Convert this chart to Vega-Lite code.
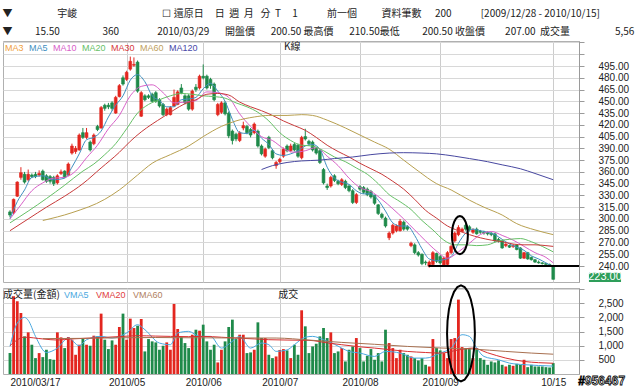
{
"$schema": "https://vega.github.io/schema/vega-lite/v6.json",
"background": "white",
"padding": {"left": 2, "top": 8, "right": 0, "bottom": 0},
"bounds": "flush",
"title": {
 "text": "▼\u00a0\u00a0\u00a0\u00a0\u00a0\u00a0\u00a0\u00a0\u00a0\u00a0\u00a0\u00a0\u00a0\u00a0\u00a0\u00a0\u00a0\u00a0\u00a0\u00a0宇峻\u00a0\u00a0\u00a0\u00a0\u00a0\u00a0\u00a0\u00a0\u00a0\u00a0\u00a0\u00a0\u00a0\u00a0\u00a0\u00a0\u00a0\u00a0\u00a0\u00a0\u00a0\u00a0\u00a0\u00a0\u00a0\u00a0\u00a0\u00a0\u00a0\u00a0\u00a0\u00a0\u00a0\u00a0\u00a0\u00a0\u00a0\u00a0☐\u00a0還原日\u00a0\u00a0\u00a0\u00a0\u00a0日\u00a0\u00a0週\u00a0\u00a0月\u00a0\u00a0\u00a0分\u00a0\u00a0T\u00a0\u00a0\u00a0\u00a0\u00a01\u00a0\u00a0\u00a0\u00a0\u00a0\u00a0\u00a0\u00a0\u00a0\u00a0\u00a0\u00a0\u00a0前一個\u00a0\u00a0\u00a0\u00a0\u00a0\u00a0\u00a0\u00a0\u00a0\u00a0\u00a0資料筆數\u00a0\u00a0\u00a0\u00a0\u00a0\u00a0200\u00a0\u00a0\u00a0\u00a0\u00a0\u00a0\u00a0\u00a0\u00a0\u00a0\u00a0\u00a0\u00a0[2009/12/28 - 2010/10/15]",
 "subtitle": "▼\u00a0\u00a0\u00a0\u00a0\u00a0\u00a0\u00a0\u00a0\u00a0\u00a015.50\u00a0\u00a0\u00a0\u00a0\u00a0\u00a0\u00a0\u00a0\u00a0\u00a0\u00a0\u00a0\u00a0\u00a0\u00a0\u00a0\u00a0\u00a0\u00a0360\u00a0\u00a0\u00a0\u00a0\u00a0\u00a0\u00a0\u00a0\u00a0\u00a0\u00a0\u00a0\u00a0\u00a0\u00a0\u00a0\u00a02010/03/29\u00a0\u00a0\u00a0\u00a0\u00a0\u00a0\u00a0開盤價\u00a0\u00a0\u00a0\u00a0\u00a0\u00a0\u00a0200.50\u00a0最高價\u00a0\u00a0\u00a0\u00a0\u00a0\u00a0\u00a0210.50最低\u00a0\u00a0\u00a0\u00a0\u00a0\u00a0\u00a0\u00a0\u00a0\u00a0200.50\u00a0收盤價\u00a0\u00a0\u00a0\u00a0\u00a0\u00a0\u00a0\u00a0\u00a0207.00\u00a0\u00a0成交量\u00a0\u00a0\u00a0\u00a0\u00a0\u00a0\u00a0\u00a0\u00a0\u00a0\u00a0\u00a0\u00a0\u00a0\u00a0\u00a0\u00a0\u00a0\u00a0\u00a05,56",
 "anchor": "start", "font": "Noto Sans CJK TC", "fontSize": 10, "fontWeight": "normal", "color": "#222",
 "subtitleFont": "Noto Sans CJK TC", "subtitleFontSize": 10, "subtitleColor": "#222", "subtitlePadding": 8, "offset": 0
},
"datasets": {
 "k": [
{"i":0,"o":309,"h":311,"l":302,"c":305,"v":739},
{"i":1,"o":308,"h":326,"l":306,"c":325,"v":2748},
{"i":2,"o":329,"h":348,"l":328,"c":347,"v":2571},
{"i":3,"o":353,"h":366,"l":350,"c":359,"v":2157},
{"i":4,"o":357,"h":360,"l":345,"c":347,"v":1330},
{"i":5,"o":350,"h":363,"l":348,"c":357,"v":1472},
{"i":6,"o":356,"h":358,"l":352,"c":354,"v":1035},
{"i":7,"o":357,"h":360,"l":352,"c":354,"v":562},
{"i":8,"o":356,"h":362,"l":354,"c":358,"v":739},
{"i":9,"o":361,"h":363,"l":349,"c":350,"v":597},
{"i":10,"o":355,"h":357,"l":346,"c":348,"v":857},
{"i":11,"o":354,"h":356,"l":345,"c":348,"v":526},
{"i":12,"o":353,"h":355,"l":342,"c":345,"v":503},
{"i":13,"o":346,"h":357,"l":344,"c":355,"v":1472},
{"i":14,"o":358,"h":363,"l":356,"c":360,"v":1295},
{"i":15,"o":361,"h":362,"l":352,"c":353,"v":916},
{"i":16,"o":356,"h":372,"l":355,"c":370,"v":1306},
{"i":17,"o":384,"h":396,"l":382,"c":393,"v":1212},
{"i":18,"o":386,"h":393,"l":383,"c":390,"v":680},
{"i":19,"o":388,"h":409,"l":387,"c":407,"v":1035},
{"i":20,"o":410,"h":416,"l":402,"c":404,"v":1247},
{"i":21,"o":404,"h":416,"l":402,"c":410,"v":1035},
{"i":22,"o":398,"h":400,"l":386,"c":388,"v":999},
{"i":23,"o":396,"h":409,"l":394,"c":407,"v":1354},
{"i":24,"o":418,"h":420,"l":412,"c":414,"v":1330},
{"i":25,"o":416,"h":444,"l":415,"c":442,"v":2134},
{"i":26,"o":445,"h":447,"l":438,"c":441,"v":1212},
{"i":27,"o":445,"h":448,"l":440,"c":443,"v":881},
{"i":28,"o":448,"h":450,"l":438,"c":441,"v":1188},
{"i":29,"o":435,"h":457,"l":434,"c":455,"v":1035},
{"i":30,"o":456,"h":472,"l":455,"c":470,"v":1661},
{"i":31,"o":480,"h":483,"l":470,"c":472,"v":2134},
{"i":32,"o":478,"h":489,"l":476,"c":487,"v":1212},
{"i":33,"o":491,"h":507,"l":489,"c":501,"v":1956},
{"i":34,"o":496,"h":506,"l":494,"c":497,"v":1625},
{"i":35,"o":500,"h":502,"l":461,"c":463,"v":1708},
{"i":36,"o":431,"h":463,"l":430,"c":461,"v":1945},
{"i":37,"o":457,"h":459,"l":450,"c":452,"v":798},
{"i":38,"o":457,"h":459,"l":453,"c":455,"v":1235},
{"i":39,"o":459,"h":461,"l":449,"c":450,"v":1153},
{"i":40,"o":461,"h":463,"l":448,"c":450,"v":1117},
{"i":41,"o":452,"h":454,"l":442,"c":444,"v":857},
{"i":42,"o":446,"h":448,"l":431,"c":433,"v":999},
{"i":43,"o":433,"h":442,"l":431,"c":440,"v":1117},
{"i":44,"o":433,"h":444,"l":432,"c":442,"v":857},
{"i":45,"o":444,"h":465,"l":443,"c":455,"v":2476},
{"i":46,"o":446,"h":464,"l":445,"c":462,"v":1590},
{"i":47,"o":467,"h":472,"l":459,"c":461,"v":1306},
{"i":48,"o":457,"h":459,"l":446,"c":448,"v":1094},
{"i":49,"o":457,"h":459,"l":438,"c":440,"v":916},
{"i":50,"o":440,"h":465,"l":438,"c":463,"v":1389},
{"i":51,"o":468,"h":472,"l":462,"c":465,"v":1566},
{"i":52,"o":467,"h":484,"l":465,"c":482,"v":1531},
{"i":53,"o":482,"h":497,"l":478,"c":480,"v":1744},
{"i":54,"o":482,"h":484,"l":465,"c":467,"v":1153},
{"i":55,"o":478,"h":480,"l":466,"c":470,"v":857},
{"i":56,"o":472,"h":474,"l":450,"c":452,"v":1035},
{"i":57,"o":433,"h":448,"l":431,"c":446,"v":408},
{"i":58,"o":436,"h":450,"l":434,"c":448,"v":857},
{"i":59,"o":448,"h":450,"l":432,"c":434,"v":1153},
{"i":60,"o":435,"h":437,"l":403,"c":406,"v":1661},
{"i":61,"o":412,"h":414,"l":395,"c":400,"v":1921},
{"i":62,"o":408,"h":410,"l":399,"c":402,"v":1235},
{"i":63,"o":400,"h":412,"l":398,"c":410,"v":1389},
{"i":64,"o":416,"h":424,"l":413,"c":419,"v":1389},
{"i":65,"o":418,"h":420,"l":408,"c":410,"v":739},
{"i":66,"o":414,"h":416,"l":404,"c":407,"v":763},
{"i":67,"o":410,"h":423,"l":408,"c":421,"v":857},
{"i":68,"o":412,"h":414,"l":391,"c":393,"v":1826},
{"i":69,"o":393,"h":395,"l":381,"c":383,"v":1271},
{"i":70,"o":380,"h":391,"l":378,"c":389,"v":1271},
{"i":71,"o":404,"h":406,"l":389,"c":391,"v":680},
{"i":72,"o":387,"h":389,"l":376,"c":378,"v":562},
{"i":73,"o":368,"h":374,"l":364,"c":372,"v":620},
{"i":74,"o":373,"h":378,"l":371,"c":376,"v":850},
{"i":75,"o":380,"h":391,"l":378,"c":389,"v":881},
{"i":76,"o":393,"h":395,"l":385,"c":387,"v":834},
{"i":77,"o":387,"h":396,"l":385,"c":393,"v":562},
{"i":78,"o":395,"h":397,"l":386,"c":388,"v":1035},
{"i":79,"o":394,"h":396,"l":378,"c":380,"v":680},
{"i":80,"o":378,"h":406,"l":376,"c":404,"v":2252},
{"i":81,"o":405,"h":415,"l":400,"c":402,"v":1685},
{"i":82,"o":399,"h":401,"l":393,"c":396,"v":739},
{"i":83,"o":398,"h":400,"l":386,"c":388,"v":975},
{"i":84,"o":390,"h":392,"l":382,"c":384,"v":1070},
{"i":85,"o":387,"h":389,"l":370,"c":372,"v":1330},
{"i":86,"o":363,"h":365,"l":344,"c":346,"v":1626},
{"i":87,"o":342,"h":345,"l":337,"c":340,"v":1271},
{"i":88,"o":342,"h":355,"l":340,"c":353,"v":1472},
{"i":89,"o":355,"h":357,"l":347,"c":349,"v":739},
{"i":90,"o":348,"h":350,"l":343,"c":345,"v":798},
{"i":91,"o":344,"h":352,"l":342,"c":350,"v":916},
{"i":92,"o":348,"h":350,"l":338,"c":340,"v":444},
{"i":93,"o":342,"h":344,"l":334,"c":336,"v":857},
{"i":94,"o":336,"h":338,"l":319,"c":321,"v":975},
{"i":95,"o":321,"h":333,"l":319,"c":331,"v":1271},
{"i":96,"o":341,"h":343,"l":336,"c":338,"v":916},
{"i":97,"o":340,"h":342,"l":332,"c":334,"v":444},
{"i":98,"o":338,"h":340,"l":329,"c":331,"v":645},
{"i":99,"o":335,"h":337,"l":326,"c":328,"v":881},
{"i":100,"o":330,"h":331,"l":318,"c":320,"v":503},
{"i":101,"o":318,"h":319,"l":305,"c":307,"v":739},
{"i":102,"o":306,"h":308,"l":300,"c":302,"v":444},
{"i":103,"o":301,"h":303,"l":289,"c":291,"v":1566},
{"i":104,"o":276,"h":284,"l":273,"c":282,"v":1094},
{"i":105,"o":282,"h":294,"l":280,"c":292,"v":916},
{"i":106,"o":285,"h":293,"l":283,"c":291,"v":562},
{"i":107,"o":285,"h":300,"l":284,"c":297,"v":857},
{"i":108,"o":296,"h":298,"l":285,"c":287,"v":739},
{"i":109,"o":290,"h":292,"l":285,"c":287,"v":680},
{"i":110,"o":266,"h":271,"l":264,"c":269,"v":621},
{"i":111,"o":267,"h":269,"l":255,"c":257,"v":562},
{"i":112,"o":257,"h":259,"l":252,"c":254,"v":479},
{"i":113,"o":255,"h":256,"l":241,"c":243,"v":562},
{"i":114,"o":245,"h":247,"l":241,"c":244,"v":325},
{"i":115,"o":240,"h":247,"l":238,"c":245,"v":266},
{"i":116,"o":242,"h":259,"l":241,"c":257,"v":1235},
{"i":117,"o":256,"h":257,"l":244,"c":246,"v":916},
{"i":118,"o":252,"h":254,"l":242,"c":244,"v":834},
{"i":119,"o":240,"h":252,"l":239,"c":250,"v":739},
{"i":120,"o":242,"h":259,"l":241,"c":257,"v":562},
{"i":121,"o":257,"h":267,"l":255,"c":265,"v":1235},
{"i":122,"o":272,"h":284,"l":270,"c":282,"v":1271},
{"i":123,"o":280,"h":292,"l":278,"c":289,"v":2630},
{"i":124,"o":284,"h":289,"l":283,"c":287,"v":952},
{"i":125,"o":292,"h":294,"l":285,"c":287,"v":916},
{"i":126,"o":290,"h":292,"l":284,"c":286,"v":916},
{"i":127,"o":283,"h":288,"l":281,"c":286,"v":562},
{"i":128,"o":287,"h":289,"l":280,"c":281,"v":916},
{"i":129,"o":284,"h":286,"l":281,"c":283,"v":562},
{"i":130,"o":283,"h":285,"l":280,"c":282,"v":503},
{"i":131,"o":283,"h":284,"l":279,"c":281,"v":325},
{"i":132,"o":282,"h":283,"l":278,"c":280,"v":444},
{"i":133,"o":281,"h":282,"l":270,"c":272,"v":408},
{"i":134,"o":274,"h":276,"l":270,"c":272,"v":479},
{"i":135,"o":272,"h":273,"l":262,"c":263,"v":325},
{"i":136,"o":266,"h":269,"l":264,"c":268,"v":266},
{"i":137,"o":266,"h":267,"l":263,"c":264,"v":325},
{"i":138,"o":265,"h":268,"l":263,"c":266,"v":290},
{"i":139,"o":267,"h":268,"l":260,"c":261,"v":361},
{"i":140,"o":263,"h":264,"l":249,"c":250,"v":325},
{"i":141,"o":250,"h":258,"l":249,"c":257,"v":503},
{"i":142,"o":257,"h":258,"l":248,"c":249,"v":242},
{"i":143,"o":251,"h":252,"l":247,"c":248,"v":325},
{"i":144,"o":248,"h":249,"l":244,"c":245,"v":266},
{"i":145,"o":245,"h":247,"l":243,"c":244,"v":266},
{"i":146,"o":244,"h":245,"l":242,"c":243,"v":266},
{"i":147,"o":243,"h":244,"l":241,"c":242,"v":242},
{"i":148,"o":242,"h":243,"l":240,"c":241,"v":230},
{"i":149,"o":240,"h":241,"l":223,"c":223,"v":385}
 ],
 "ma": [
{"m":"MA5","i":0,"v":300},{"m":"MA5","i":2,"v":322},{"m":"MA5","i":4,"v":337},{"m":"MA5","i":6,"v":353},{"m":"MA5","i":9,"v":355},{"m":"MA5","i":12,"v":350},{"m":"MA5","i":15,"v":352},{"m":"MA5","i":17,"v":366},{"m":"MA5","i":19,"v":383},{"m":"MA5","i":21,"v":401},{"m":"MA5","i":23,"v":404},{"m":"MA5","i":25,"v":412},{"m":"MA5","i":27,"v":430},{"m":"MA5","i":29,"v":445},{"m":"MA5","i":31,"v":457},{"m":"MA5","i":33,"v":477},{"m":"MA5","i":35,"v":484},{"m":"MA5","i":37,"v":475},{"m":"MA5","i":39,"v":457},{"m":"MA5","i":41,"v":451},{"m":"MA5","i":43,"v":443},{"m":"MA5","i":45,"v":443},{"m":"MA5","i":47,"v":452},{"m":"MA5","i":49,"v":453},{"m":"MA5","i":51,"v":455},{"m":"MA5","i":53,"v":466},{"m":"MA5","i":55,"v":473},{"m":"MA5","i":57,"v":463},{"m":"MA5","i":59,"v":450},{"m":"MA5","i":61,"v":427},{"m":"MA5","i":63,"v":410},{"m":"MA5","i":65,"v":409},{"m":"MA5","i":67,"v":413},{"m":"MA5","i":69,"v":403},{"m":"MA5","i":71,"v":395},{"m":"MA5","i":73,"v":383},{"m":"MA5","i":75,"v":381},{"m":"MA5","i":77,"v":383},{"m":"MA5","i":79,"v":387},{"m":"MA5","i":81,"v":393},{"m":"MA5","i":83,"v":395},{"m":"MA5","i":85,"v":389},{"m":"MA5","i":87,"v":366},{"m":"MA5","i":89,"v":352},{"m":"MA5","i":91,"v":347},{"m":"MA5","i":93,"v":344},{"m":"MA5","i":95,"v":336},{"m":"MA5","i":97,"v":332},{"m":"MA5","i":99,"v":332},{"m":"MA5","i":101,"v":324},{"m":"MA5","i":103,"v":310},{"m":"MA5","i":105,"v":295},{"m":"MA5","i":107,"v":291},{"m":"MA5","i":109,"v":291},{"m":"MA5","i":111,"v":279},{"m":"MA5","i":113,"v":262},{"m":"MA5","i":115,"v":249},{"m":"MA5","i":117,"v":247},{"m":"MA5","i":119,"v":248},{"m":"MA5","i":121,"v":252},{"m":"MA5","i":123,"v":269},{"m":"MA5","i":125,"v":282},{"m":"MA5","i":127,"v":287},{"m":"MA5","i":129,"v":285},{"m":"MA5","i":131,"v":283},{"m":"MA5","i":133,"v":280},{"m":"MA5","i":135,"v":274},{"m":"MA5","i":137,"v":268},{"m":"MA5","i":139,"v":264},{"m":"MA5","i":141,"v":260},{"m":"MA5","i":143,"v":253},{"m":"MA5","i":145,"v":249},{"m":"MA5","i":147,"v":244},{"m":"MA5","i":149,"v":239},
{"m":"MA10","i":0,"v":300},{"m":"MA10","i":3,"v":318},{"m":"MA10","i":6,"v":336},{"m":"MA10","i":9,"v":346},{"m":"MA10","i":12,"v":352},{"m":"MA10","i":15,"v":353},{"m":"MA10","i":18,"v":361},{"m":"MA10","i":21,"v":378},{"m":"MA10","i":24,"v":394},{"m":"MA10","i":27,"v":415},{"m":"MA10","i":30,"v":432},{"m":"MA10","i":33,"v":457},{"m":"MA10","i":36,"v":469},{"m":"MA10","i":39,"v":471},{"m":"MA10","i":42,"v":461},{"m":"MA10","i":45,"v":448},{"m":"MA10","i":48,"v":449},{"m":"MA10","i":51,"v":451},{"m":"MA10","i":54,"v":462},{"m":"MA10","i":57,"v":461},{"m":"MA10","i":60,"v":455},{"m":"MA10","i":63,"v":434},{"m":"MA10","i":66,"v":418},{"m":"MA10","i":69,"v":405},{"m":"MA10","i":72,"v":400},{"m":"MA10","i":75,"v":390},{"m":"MA10","i":78,"v":385},{"m":"MA10","i":81,"v":387},{"m":"MA10","i":84,"v":391},{"m":"MA10","i":87,"v":380},{"m":"MA10","i":90,"v":368},{"m":"MA10","i":93,"v":352},{"m":"MA10","i":96,"v":340},{"m":"MA10","i":99,"v":335},{"m":"MA10","i":102,"v":325},{"m":"MA10","i":105,"v":313},{"m":"MA10","i":108,"v":300},{"m":"MA10","i":111,"v":286},{"m":"MA10","i":114,"v":272},{"m":"MA10","i":117,"v":259},{"m":"MA10","i":120,"v":250},{"m":"MA10","i":123,"v":258},{"m":"MA10","i":126,"v":269},{"m":"MA10","i":129,"v":280},{"m":"MA10","i":132,"v":284},{"m":"MA10","i":135,"v":279},{"m":"MA10","i":138,"v":273},{"m":"MA10","i":141,"v":265},{"m":"MA10","i":144,"v":257},{"m":"MA10","i":147,"v":251},{"m":"MA10","i":149,"v":244},
{"m":"MA20","i":0,"v":295},{"m":"MA20","i":5,"v":310},{"m":"MA20","i":10,"v":326},{"m":"MA20","i":15,"v":343},{"m":"MA20","i":20,"v":361},{"m":"MA20","i":23,"v":370},{"m":"MA20","i":26,"v":382},{"m":"MA20","i":29,"v":396},{"m":"MA20","i":32,"v":415},{"m":"MA20","i":35,"v":435},{"m":"MA20","i":38,"v":446},{"m":"MA20","i":41,"v":452},{"m":"MA20","i":44,"v":457},{"m":"MA20","i":47,"v":460},{"m":"MA20","i":50,"v":459},{"m":"MA20","i":53,"v":457},{"m":"MA20","i":56,"v":456},{"m":"MA20","i":59,"v":454},{"m":"MA20","i":62,"v":448},{"m":"MA20","i":65,"v":443},{"m":"MA20","i":68,"v":436},{"m":"MA20","i":71,"v":425},{"m":"MA20","i":74,"v":410},{"m":"MA20","i":77,"v":400},{"m":"MA20","i":80,"v":394},{"m":"MA20","i":83,"v":393},{"m":"MA20","i":86,"v":387},{"m":"MA20","i":89,"v":379},{"m":"MA20","i":92,"v":373},{"m":"MA20","i":95,"v":365},{"m":"MA20","i":98,"v":357},{"m":"MA20","i":101,"v":345},{"m":"MA20","i":104,"v":331},{"m":"MA20","i":107,"v":322},{"m":"MA20","i":110,"v":312},{"m":"MA20","i":113,"v":298},{"m":"MA20","i":116,"v":286},{"m":"MA20","i":119,"v":273},{"m":"MA20","i":122,"v":267},{"m":"MA20","i":125,"v":267},{"m":"MA20","i":128,"v":266},{"m":"MA20","i":131,"v":267},{"m":"MA20","i":134,"v":272},{"m":"MA20","i":137,"v":274},{"m":"MA20","i":140,"v":275},{"m":"MA20","i":143,"v":271},{"m":"MA20","i":146,"v":265},{"m":"MA20","i":149,"v":258},
{"m":"MA30","i":0,"v":285},{"m":"MA30","i":5,"v":300},{"m":"MA30","i":10,"v":315},{"m":"MA30","i":15,"v":329},{"m":"MA30","i":20,"v":345},{"m":"MA30","i":25,"v":365},{"m":"MA30","i":30,"v":385},{"m":"MA30","i":33,"v":399},{"m":"MA30","i":36,"v":411},{"m":"MA30","i":39,"v":421},{"m":"MA30","i":42,"v":430},{"m":"MA30","i":45,"v":439},{"m":"MA30","i":48,"v":447},{"m":"MA30","i":51,"v":452},{"m":"MA30","i":54,"v":459},{"m":"MA30","i":57,"v":460},{"m":"MA30","i":60,"v":458},{"m":"MA30","i":63,"v":449},{"m":"MA30","i":66,"v":443},{"m":"MA30","i":69,"v":438},{"m":"MA30","i":72,"v":432},{"m":"MA30","i":75,"v":425},{"m":"MA30","i":78,"v":419},{"m":"MA30","i":81,"v":413},{"m":"MA30","i":84,"v":404},{"m":"MA30","i":87,"v":394},{"m":"MA30","i":90,"v":386},{"m":"MA30","i":93,"v":379},{"m":"MA30","i":96,"v":371},{"m":"MA30","i":99,"v":364},{"m":"MA30","i":102,"v":357},{"m":"MA30","i":105,"v":348},{"m":"MA30","i":108,"v":338},{"m":"MA30","i":111,"v":325},{"m":"MA30","i":114,"v":311},{"m":"MA30","i":117,"v":301},{"m":"MA30","i":120,"v":291},{"m":"MA30","i":123,"v":285},{"m":"MA30","i":126,"v":280},{"m":"MA30","i":129,"v":276},{"m":"MA30","i":132,"v":273},{"m":"MA30","i":135,"v":271},{"m":"MA30","i":138,"v":268},{"m":"MA30","i":141,"v":267},{"m":"MA30","i":144,"v":267},{"m":"MA30","i":147,"v":266},{"m":"MA30","i":149,"v":265},
{"m":"MA60","i":9,"v":298},{"m":"MA60","i":17,"v":308},{"m":"MA60","i":26,"v":325},{"m":"MA60","i":30,"v":337},{"m":"MA60","i":35,"v":356},{"m":"MA60","i":39,"v":371},{"m":"MA60","i":44,"v":382},{"m":"MA60","i":49,"v":393},{"m":"MA60","i":53,"v":405},{"m":"MA60","i":58,"v":418},{"m":"MA60","i":62,"v":425},{"m":"MA60","i":67,"v":430},{"m":"MA60","i":71,"v":432},{"m":"MA60","i":76,"v":432},{"m":"MA60","i":80,"v":433},{"m":"MA60","i":83,"v":432},{"m":"MA60","i":87,"v":426},{"m":"MA60","i":92,"v":416},{"m":"MA60","i":96,"v":407},{"m":"MA60","i":100,"v":398},{"m":"MA60","i":104,"v":389},{"m":"MA60","i":108,"v":375},{"m":"MA60","i":112,"v":361},{"m":"MA60","i":117,"v":345},{"m":"MA60","i":121,"v":337},{"m":"MA60","i":126,"v":324},{"m":"MA60","i":130,"v":315},{"m":"MA60","i":135,"v":305},{"m":"MA60","i":139,"v":294},{"m":"MA60","i":144,"v":286},{"m":"MA60","i":149,"v":280},
{"m":"MA120","i":69,"v":363},{"m":"MA120","i":72,"v":368},{"m":"MA120","i":76,"v":372},{"m":"MA120","i":80,"v":374},{"m":"MA120","i":85,"v":375},{"m":"MA120","i":89,"v":377},{"m":"MA120","i":94,"v":379},{"m":"MA120","i":99,"v":382},{"m":"MA120","i":104,"v":384},{"m":"MA120","i":108,"v":384.5},{"m":"MA120","i":113,"v":384},{"m":"MA120","i":117,"v":383},{"m":"MA120","i":122,"v":380},{"m":"MA120","i":126,"v":377},{"m":"MA120","i":131,"v":373},{"m":"MA120","i":135,"v":369},{"m":"MA120","i":140,"v":364},{"m":"MA120","i":144,"v":358},{"m":"MA120","i":149,"v":350}
 ],
 "vma": [
{"m":"VMA5","i":0,"v":975},{"m":"VMA5","i":2,"v":1800},{"m":"VMA5","i":4,"v":2000},{"m":"VMA5","i":5,"v":1900},{"m":"VMA5","i":7,"v":1330},{"m":"VMA5","i":10,"v":760},{"m":"VMA5","i":13,"v":916},{"m":"VMA5","i":16,"v":1271},{"m":"VMA5","i":19,"v":1000},{"m":"VMA5","i":21,"v":1212},{"m":"VMA5","i":25,"v":1330},{"m":"VMA5","i":28,"v":1271},{"m":"VMA5","i":32,"v":1448},{"m":"VMA5","i":35,"v":1744},{"m":"VMA5","i":37,"v":1566},{"m":"VMA5","i":41,"v":1094},{"m":"VMA5","i":44,"v":1035},{"m":"VMA5","i":46,"v":1450},{"m":"VMA5","i":49,"v":1507},{"m":"VMA5","i":52,"v":1330},{"m":"VMA5","i":55,"v":1330},{"m":"VMA5","i":58,"v":916},{"m":"VMA5","i":61,"v":1153},{"m":"VMA5","i":63,"v":1330},{"m":"VMA5","i":66,"v":916},{"m":"VMA5","i":69,"v":1094},{"m":"VMA5","i":71,"v":1035},{"m":"VMA5","i":73,"v":800},{"m":"VMA5","i":76,"v":850},{"m":"VMA5","i":78,"v":1035},{"m":"VMA5","i":81,"v":1300},{"m":"VMA5","i":83,"v":1330},{"m":"VMA5","i":86,"v":1212},{"m":"VMA5","i":89,"v":1050},{"m":"VMA5","i":91,"v":916},{"m":"VMA5","i":93,"v":798},{"m":"VMA5","i":96,"v":739},{"m":"VMA5","i":100,"v":621},{"m":"VMA5","i":103,"v":798},{"m":"VMA5","i":107,"v":739},{"m":"VMA5","i":111,"v":562},{"m":"VMA5","i":114,"v":562},{"m":"VMA5","i":118,"v":739},{"m":"VMA5","i":121,"v":916},{"m":"VMA5","i":124,"v":1389},{"m":"VMA5","i":126,"v":1330},{"m":"VMA5","i":128,"v":916},{"m":"VMA5","i":130,"v":621},{"m":"VMA5","i":134,"v":503},{"m":"VMA5","i":137,"v":385},{"m":"VMA5","i":141,"v":330},{"m":"VMA5","i":145,"v":300},{"m":"VMA5","i":149,"v":280},
{"m":"VMA20","i":0,"v":1000},{"m":"VMA20","i":4,"v":1300},{"m":"VMA20","i":9,"v":1240},{"m":"VMA20","i":13,"v":1200},{"m":"VMA20","i":17,"v":1240},{"m":"VMA20","i":22,"v":1270},{"m":"VMA20","i":26,"v":1295},{"m":"VMA20","i":31,"v":1330},{"m":"VMA20","i":35,"v":1354},{"m":"VMA20","i":40,"v":1340},{"m":"VMA20","i":44,"v":1330},{"m":"VMA20","i":49,"v":1320},{"m":"VMA20","i":53,"v":1330},{"m":"VMA20","i":58,"v":1300},{"m":"VMA20","i":62,"v":1271},{"m":"VMA20","i":67,"v":1240},{"m":"VMA20","i":71,"v":1212},{"m":"VMA20","i":76,"v":1200},{"m":"VMA20","i":82,"v":1190},{"m":"VMA20","i":87,"v":1100},{"m":"VMA20","i":91,"v":1035},{"m":"VMA20","i":96,"v":960},{"m":"VMA20","i":100,"v":916},{"m":"VMA20","i":105,"v":850},{"m":"VMA20","i":109,"v":798},{"m":"VMA20","i":114,"v":760},{"m":"VMA20","i":118,"v":739},{"m":"VMA20","i":123,"v":850},{"m":"VMA20","i":127,"v":916},{"m":"VMA20","i":131,"v":750},{"m":"VMA20","i":136,"v":562},{"m":"VMA20","i":141,"v":444},{"m":"VMA20","i":145,"v":400},{"m":"VMA20","i":149,"v":380},
{"m":"VMA60","i":9,"v":1250},{"m":"VMA60","i":20,"v":1260},{"m":"VMA60","i":30,"v":1280},{"m":"VMA60","i":40,"v":1290},{"m":"VMA60","i":50,"v":1280},{"m":"VMA60","i":60,"v":1275},{"m":"VMA60","i":73,"v":1271},{"m":"VMA60","i":82,"v":1200},{"m":"VMA60","i":91,"v":1117},{"m":"VMA60","i":100,"v":1050},{"m":"VMA60","i":109,"v":975},{"m":"VMA60","i":118,"v":920},{"m":"VMA60","i":127,"v":881},{"m":"VMA60","i":136,"v":798},{"m":"VMA60","i":143,"v":740},{"m":"VMA60","i":149,"v":700}
 ]
},
"vconcat": [
 {
  "width": 576, "height": 241,
  "layer": [
   {"data": {"name": "k"}, "mark": {"type": "rule", "strokeWidth": 1},
    "encoding": {
     "x": {"field": "i", "type": "quantitative", "scale": {"domain": [-0.54, 154.7], "nice": false, "zero": false},
           "axis": {"values": [32, 53, 74, 96, 118, 149], "grid": true, "gridColor": "#cccccc", "labels": false, "ticks": false, "domain": false, "title": null}},
     "y": {"field": "l", "type": "quantitative", "scale": {"domain": [219.6, 526.9], "nice": false, "zero": false},
           "axis": {"orient": "right", "values": [240,255,270,285,300,315,330,345,360,375,390,405,420,435,450,465,480,495,510,525], "tickCount": 100,
                    "labelExpr": "datum.value > 500 ? '' : format(datum.value, '.2f')", "grid": true, "gridColor": "#d8d8d8",
                    "domainColor": "#9a9a9a", "tickColor": "#9a9a9a", "tickSize": 5, "labelAlign": "left", "labelPadding": 14,
                    "labelOverlap": false, "labelFontSize": 10, "title": null}},
     "y2": {"field": "h"},
     "stroke": {"condition": {"test": "datum.c >= datum.o", "value": "#e3261f"}, "value": "#1f8a4a"}
    }},
   {"data": {"name": "k"}, "mark": {"type": "bar", "width": 2.8, "strokeWidth": 0.6},
    "encoding": {
     "x": {"field": "i", "type": "quantitative"},
     "y": {"field": "o", "type": "quantitative"},
     "y2": {"field": "c"},
     "fill": {"condition": {"test": "datum.c >= datum.o", "value": "#e3261f"}, "value": "#1f8a4a"},
     "stroke": {"condition": {"test": "datum.c >= datum.o", "value": "#e3261f"}, "value": "#1f8a4a"}
    }},
   {"data": {"name": "ma"}, "mark": {"type": "line", "strokeWidth": 1, "interpolate": "monotone"},
    "encoding": {
     "x": {"field": "i", "type": "quantitative"},
     "y": {"field": "v", "type": "quantitative"},
     "color": {"field": "m", "type": "nominal",
       "scale": {"domain": ["MA3","MA5","MA10","MA20","MA30","MA60","MA120"], "range": ["#f0a040","#3f8fc0","#d860c8","#66c066","#c83a3a","#b8a050","#4848a0"]},
       "legend": {"orient": "none", "legendX": 0, "legendY": 2, "padding": 0, "direction": "horizontal", "title": null, "gridAlign": "none",
                  "symbolSize": 1, "symbolStrokeWidth": 0, "symbolOpacity": 0, "labelOffset": -7, "columnPadding": 3,
                  "labelFontSize": 9,
                  "encode": {"labels": {"update": {"fill": {"signal": "datum.value=='MA3'?'#f0a040':datum.value=='MA5'?'#3f8fc0':datum.value=='MA10'?'#d860c8':datum.value=='MA20'?'#66c066':datum.value=='MA30'?'#d83a3a':datum.value=='MA60'?'#c0a060':'#4848a8'"}}}}}}
    }},
   {"data": {"values": [{}]}, "mark": {"type": "rule", "strokeWidth": 2, "color": "black"},
    "encoding": {"x": {"datum": 114.8}, "x2": {"datum": 156.1}, "y": {"datum": 240}}},
   {"data": {"values": [{}]}, "mark": {"type": "point", "filled": false, "stroke": "black", "strokeWidth": 2, "opacity": 1, "size": 1444,
      "shape": "M0.42,0L0.406,0.259L0.364,0.5L0.297,0.707L0.21,0.866L0.109,0.966L0,1L-0.109,0.966L-0.21,0.866L-0.297,0.707L-0.364,0.5L-0.406,0.259L-0.42,0L-0.406,-0.259L-0.364,-0.5L-0.297,-0.707L-0.21,-0.866L-0.109,-0.966L0,-1L0.109,-0.966L0.21,-0.866L0.297,-0.707L0.364,-0.5L0.406,-0.259Z"},
    "encoding": {"x": {"datum": 123.4}, "y": {"datum": 279.4}}},
   {"data": {"values": [{}]}, "mark": {"type": "rect", "fill": "#2e9e5a"},
    "encoding": {"x": {"datum": 158.8}, "x2": {"datum": 167.6}, "y": {"datum": 219.6}, "y2": {"datum": 231.5}}},
   {"data": {"values": [{}]}, "mark": {"type": "text", "color": "white", "fontSize": 11, "font": "Liberation Sans", "align": "center", "baseline": "middle"},
    "encoding": {"x": {"datum": 163.2}, "y": {"datum": 225.6}, "text": {"value": "223.00"}}},
   {"data": {"values": [{}]}, "mark": {"type": "text", "color": "#222", "fontSize": 10, "font": "Noto Sans CJK TC", "align": "center", "baseline": "middle"},
    "encoding": {"x": {"datum": 77.4}, "y": {"datum": 519}, "text": {"value": "K線"}}}
  ]
 },
 {
  "width": 576, "height": 86,
  "layer": [
   {"data": {"name": "k"}, "mark": {"type": "bar", "width": 2.8},
    "encoding": {
     "x": {"field": "i", "type": "quantitative", "scale": {"domain": [-0.54, 154.7], "nice": false, "zero": false},
           "axis": {"values": [0, 32, 53, 74, 96, 118, 149], "tickCount": 100, "grid": true, "gridColor": "#cccccc",
                    "gridOpacity": {"condition": {"test": "datum.value == 0", "value": 0}, "value": 1},
                    "labelExpr": "datum.value==0?'2010/03/17':datum.value==32?'2010/05':datum.value==53?'2010/06':datum.value==74?'2010/07':datum.value==96?'2010/08':datum.value==118?'2010/09':'10/15'",
                    "labelAlign": {"condition": {"test": "datum.value == 0", "value": "left"}, "value": "center"},
                    "labelFlush": false, "labelOverlap": false, "labelFontSize": 10, "ticks": false, "domain": false, "labelPadding": 3, "title": null}},
     "y": {"field": "v", "type": "quantitative", "scale": {"domain": [0, 3040], "nice": false},
           "axis": {"orient": "right", "values": [500, 1000, 1500, 2000, 2500, 3000], "tickCount": 100,
                    "labelExpr": "datum.value > 2500 ? '' : format(datum.value, ',')", "grid": true, "gridColor": "#d8d8d8",
                    "domainColor": "#9a9a9a", "tickColor": "#9a9a9a", "tickSize": 5, "labelAlign": "left", "labelPadding": 14,
                    "labelOverlap": false, "labelFontSize": 10, "title": null}},
     "fill": {"condition": {"test": "datum.c >= datum.o", "value": "#e3261f"}, "value": "#1f8a4a"}
    }},
   {"data": {"name": "vma"}, "mark": {"type": "line", "strokeWidth": 1, "interpolate": "monotone"},
    "encoding": {
     "x": {"field": "i", "type": "quantitative"},
     "y": {"field": "v", "type": "quantitative"},
     "color": {"field": "m", "type": "nominal",
       "scale": {"domain": ["VMA5","VMA20","VMA60"], "range": ["#4aa8e0","#d83030","#a87050"]},
       "legend": {"orient": "none", "legendX": 0, "legendY": 2, "padding": 0, "direction": "horizontal", "title": "成交量(金額)", "gridAlign": "none",
                  "titleOrient": "left", "titleFont": "Noto Sans CJK TC", "titleFontSize": 10, "titleFontWeight": "normal", "titleColor": "#222", "titlePadding": 0,
                  "symbolSize": 1, "symbolStrokeWidth": 0, "symbolOpacity": 0, "labelOffset": -5, "columnPadding": 3,
                  "labelFontSize": 9,
                  "encode": {"labels": {"update": {"fill": {"signal": "datum.value=='VMA5'?'#4aa8e0':datum.value=='VMA20'?'#e04040':'#b08060'"}}}}}}
    }},
   {"data": {"values": [{}]}, "mark": {"type": "point", "filled": false, "stroke": "black", "strokeWidth": 2, "opacity": 1, "size": 9216,
      "shape": "M0.29,0L0.28,0.259L0.251,0.5L0.205,0.707L0.145,0.866L0.075,0.966L0,1L-0.075,0.966L-0.145,0.866L-0.205,0.707L-0.251,0.5L-0.28,0.259L-0.29,0L-0.28,-0.259L-0.251,-0.5L-0.205,-0.707L-0.145,-0.866L-0.075,-0.966L0,-1L0.075,-0.966L0.145,-0.866L0.205,-0.707L0.251,-0.5L0.28,-0.259Z"},
    "encoding": {"x": {"datum": 123.7}, "y": {"datum": 1436}}},
   {"data": {"values": [{}]}, "mark": {"type": "text", "color": "#222", "fontSize": 10, "font": "Noto Sans CJK TC", "align": "center", "baseline": "middle"},
    "encoding": {"x": {"datum": 76.3}, "y": {"datum": 2784}, "text": {"value": "成交"}}},
   {"data": {"values": [{}]}, "mark": {"type": "text", "fill": "white", "stroke": "black", "strokeWidth": 0.8, "fontSize": 12, "fontWeight": "bold", "font": "Liberation Sans", "align": "center", "baseline": "middle"},
    "encoding": {"x": {"datum": 162.3}, "y": {"datum": -240}, "text": {"value": "#956467"}}}
  ]
 }
],
"spacing": 6,
"resolve": {"scale": {"color": "independent"}, "legend": {"color": "independent"}},
"config": {
 "view": {"stroke": "#b0b0b0"},
 "font": "Liberation Sans",
 "axis": {"labelFont": "Liberation Sans", "labelFontSize": 10, "labelColor": "#222", "labelOverlap": false},
 "legend": {"labelFont": "Liberation Sans"}
}
}
